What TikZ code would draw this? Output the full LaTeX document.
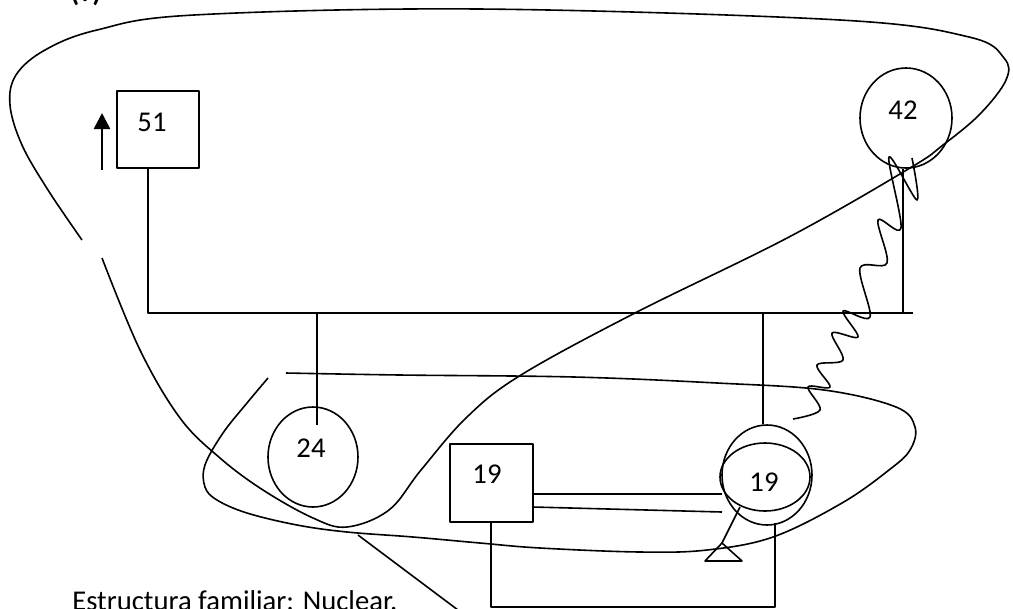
\documentclass[tikz,border=0pt]{standalone}
\usepackage{fontspec}
\setmainfont{Carlito}
\usetikzlibrary{shapes.geometric,arrows.meta}
\begin{document}
\begin{tikzpicture}[x=0.75pt,y=-0.75pt,
  ln/.style={line width=1.2pt,line join=round},
  box/.style={ln,draw,rectangle,inner sep=0pt},
  ring/.style={ln,draw,ellipse,inner sep=0pt},
  lbl/.style={inner sep=0pt,font=\fontsize{21.5}{25}\selectfont}]
\useasboundingbox (0,0) rectangle (1013,608);
\clip (0,0) rectangle (1013,608);
% people
\node[box,minimum width=61.5pt,minimum height=57.75pt] (n51) at (158,129.5) {};
\node[lbl] (t51) at (152,122) {51};
\node[ring,minimum width=69pt,minimum height=75pt] (n42) at (906,118) {};
\node[lbl] (t42) at (903,110) {42};
\node[ring,minimum width=67.5pt,minimum height=75pt] (n24) at (313,457) {};
\node[lbl] (t24) at (311,448) {24};
\node[box,minimum width=62.25pt,minimum height=58.5pt] (m19) at (491.5,483) {};
\node[lbl] (tm19) at (487,474) {19};
\node[ring,minimum width=67.5pt,minimum height=75pt] (f19) at (767,475) {};
\node[ring,minimum width=67.5pt,minimum height=51pt] (f19i) at (765,477) {};
\node[lbl] (tf19) at (764,482) {19};
% arrow beside 51
\coordinate (a0) at (102,170);
\coordinate (a1) at (102,113);
\draw[line width=2pt,-{Triangle[length=12pt,width=12pt]}] (a0) -- (a1);
% sibling line
\coordinate (hL) at (148,313);
\coordinate (hR) at (913,313);
\draw[ln] (n51.south -| hL) -- (hL) -- (hR);
\coordinate (v24a) at (317,313);
\coordinate (v24b) at (317,425);
\draw[ln] (v24a) -- (v24b);
\coordinate (v19a) at (763,313);
\draw[ln] (v19a) -- (v19a |- f19.north);
\coordinate (v42a) at (903,313);
\draw[ln] (v42a) -- (v42a |- n42.south);
% couple lines
\coordinate (d1) at (722,494);
\coordinate (d2) at (722,512);
\draw[ln] (m19.east |- d1) -- (d1);
\draw[ln] (533,507) -- (d2);
% bottom connector
\coordinate (bL) at (491,607);
\coordinate (bR) at (775,607);
\draw[ln] (m19.south -| bL) -- (bL) -- (bR) -- (775,523);
% triangle
\coordinate (tr0) at (740,507);
\coordinate (tr1) at (722,543);
\draw[ln] (tr0) -- (tr1);
\draw[ln] (tr1) -- (742,561) -- (705,561) -- cycle;
% diagonal line bottom left
\draw[ln] (358,535) -- (462,613);
% big loop
\draw[ln] plot[smooth,tension=0.6] coordinates {
 (82,240) (48,190) (22,145) (10,105) (16,75) (45,50) (97,30) (194,15) (478,9)
 (840,20) (969,37) (1004,58) (1006,80) (980,114) (943,145) (910,168) (789,237)
 (635,313) (521,375) (467,417) (421,470) (389,510) (347,527) (313,518)
 (263,490) (220,458) (180,418) (140,350) (102,258)};
% lower loop
\draw[ln] plot[smooth,tension=0.6] coordinates {
 (268,378) (247,403) (223,433) (205,465) (205,487) (217,500) (247,513) (297,525)
 (347,532) (413,537) (480,543) (540,548) (640,552) (707,550) (773,537)
 (842,503) (889,470) (910,450) (915,427) (896,407) (824,390) (717,383)
 (574,377) (400,375) (286,373)};
% conflict zigzag
\draw[ln] plot[smooth,tension=0.55] coordinates {
 (912,158) (917,200) (889,157) (901,228) (878,220) (887,263) (860,268)
 (870,317) (843,311) (858,337) (832,333) (843,360) (817,365) (830,387)
 (808,387) (820,410) (793,419)};
% texts
\node[lbl,anchor=base west] (title) at (70,1) {\bfseries (?)};
\node[lbl,anchor=base west] (caption) at (72,610) {Estructura familiar: Nuclear.};
\end{tikzpicture}
\end{document}
